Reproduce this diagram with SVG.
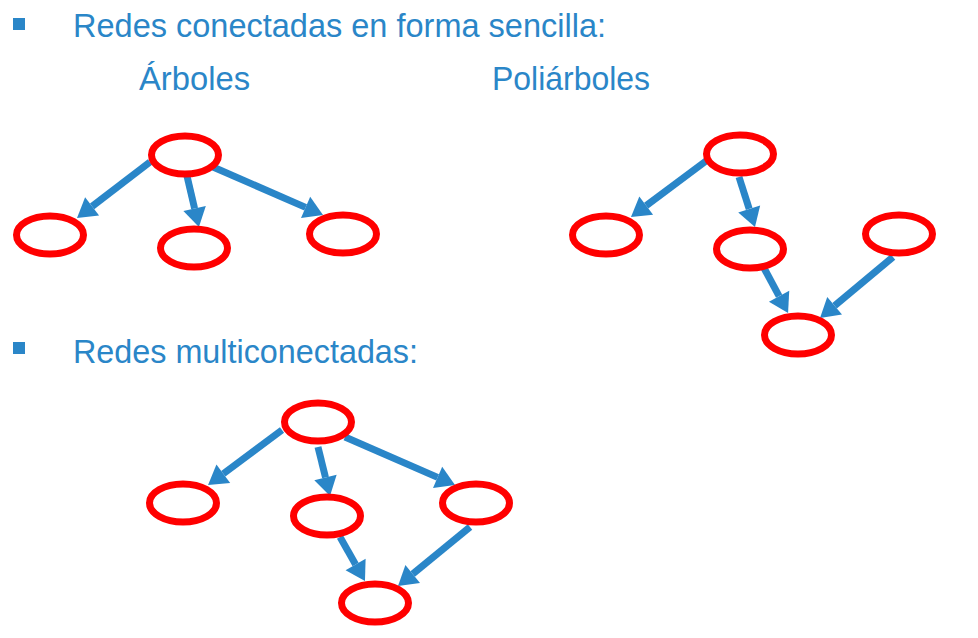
<svg xmlns="http://www.w3.org/2000/svg" width="978" height="638" viewBox="0 0 978 638">
<style>
.t{font-family:"Liberation Sans",Arial,sans-serif;fill:#2a86c8;font-size:34px}
.n{fill:none;stroke:#ff0000;stroke-width:7}
.e{stroke:#2a86c8;stroke-width:7;fill:none;marker-end:url(#ah)}
.b{fill:#2a86c8}
</style>
<defs>
<marker id="ah" markerUnits="userSpaceOnUse" markerWidth="24" markerHeight="28" viewBox="0 -14 22 28" refX="0" refY="0" orient="auto">
<path d="M0,-11.5 L19,0 L0,11.5 z" fill="#2a86c8"/>
</marker>
</defs>
<rect width="978" height="638" fill="#ffffff"/>
<g id="titles">
<rect class="b" x="13" y="18" width="12" height="12"/>
<text class="t" x="73" y="37" textLength="533" lengthAdjust="spacingAndGlyphs">Redes conectadas en forma sencilla:</text>
<text class="t" x="139" y="90" textLength="111" lengthAdjust="spacingAndGlyphs">Árboles</text>
<text class="t" x="492" y="90" textLength="158" lengthAdjust="spacingAndGlyphs">Poliárboles</text>
<rect class="b" x="13" y="342" width="12" height="12"/>
<text class="t" x="73" y="363" textLength="345" lengthAdjust="spacingAndGlyphs">Redes multiconectadas:</text>
</g>
<g id="connectors">
<line class="e" x1="150" y1="162" x2="92.1" y2="206.4"/>
<line class="e" x1="187" y1="176" x2="194.6" y2="208.5"/>
<line class="e" x1="213" y1="167" x2="305.6" y2="207.4"/>
<line class="e" x1="706" y1="161" x2="646.2" y2="205.6"/>
<line class="e" x1="739" y1="177" x2="749.2" y2="208.9"/>
<line class="e" x1="764" y1="268" x2="779.1" y2="296.2"/>
<line class="e" x1="893" y1="257" x2="834.6" y2="305.8"/>
<line class="e" x1="282" y1="430" x2="223.3" y2="473.7"/>
<line class="e" x1="318" y1="447" x2="325.5" y2="477.5"/>
<line class="e" x1="345" y1="437" x2="437.6" y2="477.4"/>
<line class="e" x1="340" y1="537" x2="355.6" y2="564.5"/>
<line class="e" x1="470" y1="527" x2="412.7" y2="574"/>
</g>
<g id="tree-root"><ellipse class="n" cx="185" cy="155" rx="33.5" ry="19"/></g>
<g id="tree-left"><ellipse class="n" cx="50" cy="235" rx="33.5" ry="19"/></g>
<g id="tree-mid"><ellipse class="n" cx="194" cy="248" rx="33.5" ry="19"/></g>
<g id="tree-right"><ellipse class="n" cx="343" cy="234" rx="33.5" ry="19"/></g>
<g id="poly-root"><ellipse class="n" cx="740" cy="154" rx="33.5" ry="19"/></g>
<g id="poly-left"><ellipse class="n" cx="606" cy="235" rx="33.5" ry="19"/></g>
<g id="poly-mid"><ellipse class="n" cx="750" cy="249" rx="33.5" ry="19"/></g>
<g id="poly-right"><ellipse class="n" cx="899" cy="234" rx="33.5" ry="19"/></g>
<g id="poly-bottom"><ellipse class="n" cx="798" cy="335" rx="33.5" ry="19"/></g>
<g id="multi-root"><ellipse class="n" cx="318" cy="422" rx="33.5" ry="19"/></g>
<g id="multi-left"><ellipse class="n" cx="183" cy="503" rx="33.5" ry="19"/></g>
<g id="multi-mid"><ellipse class="n" cx="327" cy="516" rx="33.5" ry="19"/></g>
<g id="multi-right"><ellipse class="n" cx="476" cy="503" rx="33.5" ry="19"/></g>
<g id="multi-bottom"><ellipse class="n" cx="375" cy="603" rx="33.5" ry="19"/></g>
</svg>
